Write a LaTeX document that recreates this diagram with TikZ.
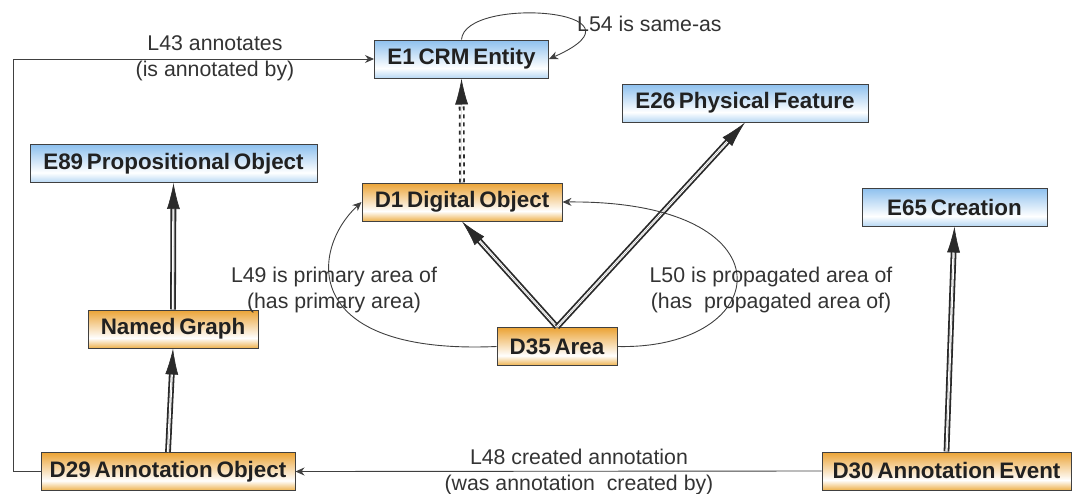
\documentclass[tikz,border=0pt]{standalone}
\usepackage{fontspec}
\setmainfont{Liberation Sans}
\usetikzlibrary{arrows.meta}
\definecolor{bluetop}{HTML}{8DC0EE}
\definecolor{bluebot}{HTML}{B8D8F4}
\definecolor{orgtop}{HTML}{EBA335}
\definecolor{orgbot}{HTML}{EEB24E}
\definecolor{edgec}{HTML}{404040}
\definecolor{txtc}{HTML}{333333}
\definecolor{dblc}{HTML}{2A2A2A}
\pgfdeclareverticalshading{blueshade}{100bp}{color(0bp)=(bluebot); color(25bp)=(bluebot); color(38bp)=(white); color(75bp)=(bluetop); color(100bp)=(bluetop)}
\pgfdeclareverticalshading{orangeshade}{100bp}{color(0bp)=(orgbot); color(25bp)=(orgbot); color(38bp)=(white); color(75bp)=(orgtop); color(100bp)=(orgtop)}
\newcommand\boxfnt{\fontsize{22.4}{26}\selectfont\bfseries\spaceskip=0.17em plus 0.05em\relax}
\newcommand\lblfnt{\fontsize{21.3}{26}\selectfont}
\begin{document}
\begin{tikzpicture}[x=1pt,y=-1pt,
  ent/.style={draw=edgec, line width=1pt, shading=blueshade, minimum height=38pt, inner sep=0pt, font=\boxfnt, text=black!87},
  dig/.style={ent, shading=orangeshade},
  dbl/.style={draw=none,
    postaction={draw=dblc, line width=5.8pt, shorten >=18pt},
    postaction={draw=white, solid, line width=2.2pt, shorten >=20pt},
    postaction={draw=dblc, fill=dblc, solid, line width=0.6pt, dash pattern=on 0pt off 3000pt, -{Latex[length=26pt,width=13pt]}}},
  rel/.style={draw=edgec, line width=0.9pt, -{Stealth[length=9pt,width=8pt]}},
  lbl/.style={font=\lblfnt, text=txtc, align=center, inner sep=0pt}]
\useasboundingbox (0,0) rectangle (1074,493);
% nodes
\node[ent, minimum width=174pt] (E1) at (461.5,59) {E1 CRM Entity};
\node[ent, minimum width=246pt] (E26) at (745,103) {E26 Physical Feature};
\node[ent, minimum width=185pt] (E65) at (954.5,207) {E65 Creation};
\node[ent, minimum width=287pt] (E89) at (173.5,163.5) {E89 Propositional Object};
\node[dig, minimum width=170pt] (NG) at (173,329) {Named Graph};
\node[dig, minimum width=200pt] (D1) at (462,202) {D1 Digital Object};
\node[dig, minimum width=120pt] (D35) at (557,346.5) {D35 Area};
\node[dig, minimum width=254pt] (D29) at (168,471.5) {D29 Annotation Object};
\node[dig, minimum width=249pt] (D30) at (946.5,471) {D30 Annotation Event};
% subclass arrows
\draw[dbl, dash pattern=on 4pt off 4pt] (D1.north) -- (E1.south);
\draw[dbl] (D35.north) -- (D1.south);
\draw[dbl] (D35.north) -- (E26.south);
\draw[dbl] (NG.north) -- (E89.south);
\draw[dbl] (D29.north) -- (NG.south);
\draw[dbl] (D30.north) -- (E65.south);
% properties
\coordinate (c43) at (13,471.5);
\draw[rel] (D29.west) -- (c43) |- (E1.west);
\node[lbl] (l43) at (215,58) {L43 annotates\\(is annotated by)};
\draw[rel] (E1.north) .. controls (465,-5) and (660,10) .. (E1.east);
\node[lbl, anchor=west] (l54) at (577,24) {L54 is same-as};
\draw[rel] (D35.west) .. controls (300,355) and (310,250) .. (D1.west);
\node[lbl] (l49) at (334,290) {L49 is primary area of\\(has primary area)};
\draw[rel] (D35.east) .. controls (775,350) and (795,200) .. (D1.east);
\node[lbl] (l50) at (771,290) {L50 is propagated area of\\(has\ \ propagated area of)};
\draw[rel] (D30.west) -- (D29.east);
\node[lbl] (l48) at (579,472) {L48 created annotation\\(was annotation\ \ created by)};
\end{tikzpicture}
\end{document}
